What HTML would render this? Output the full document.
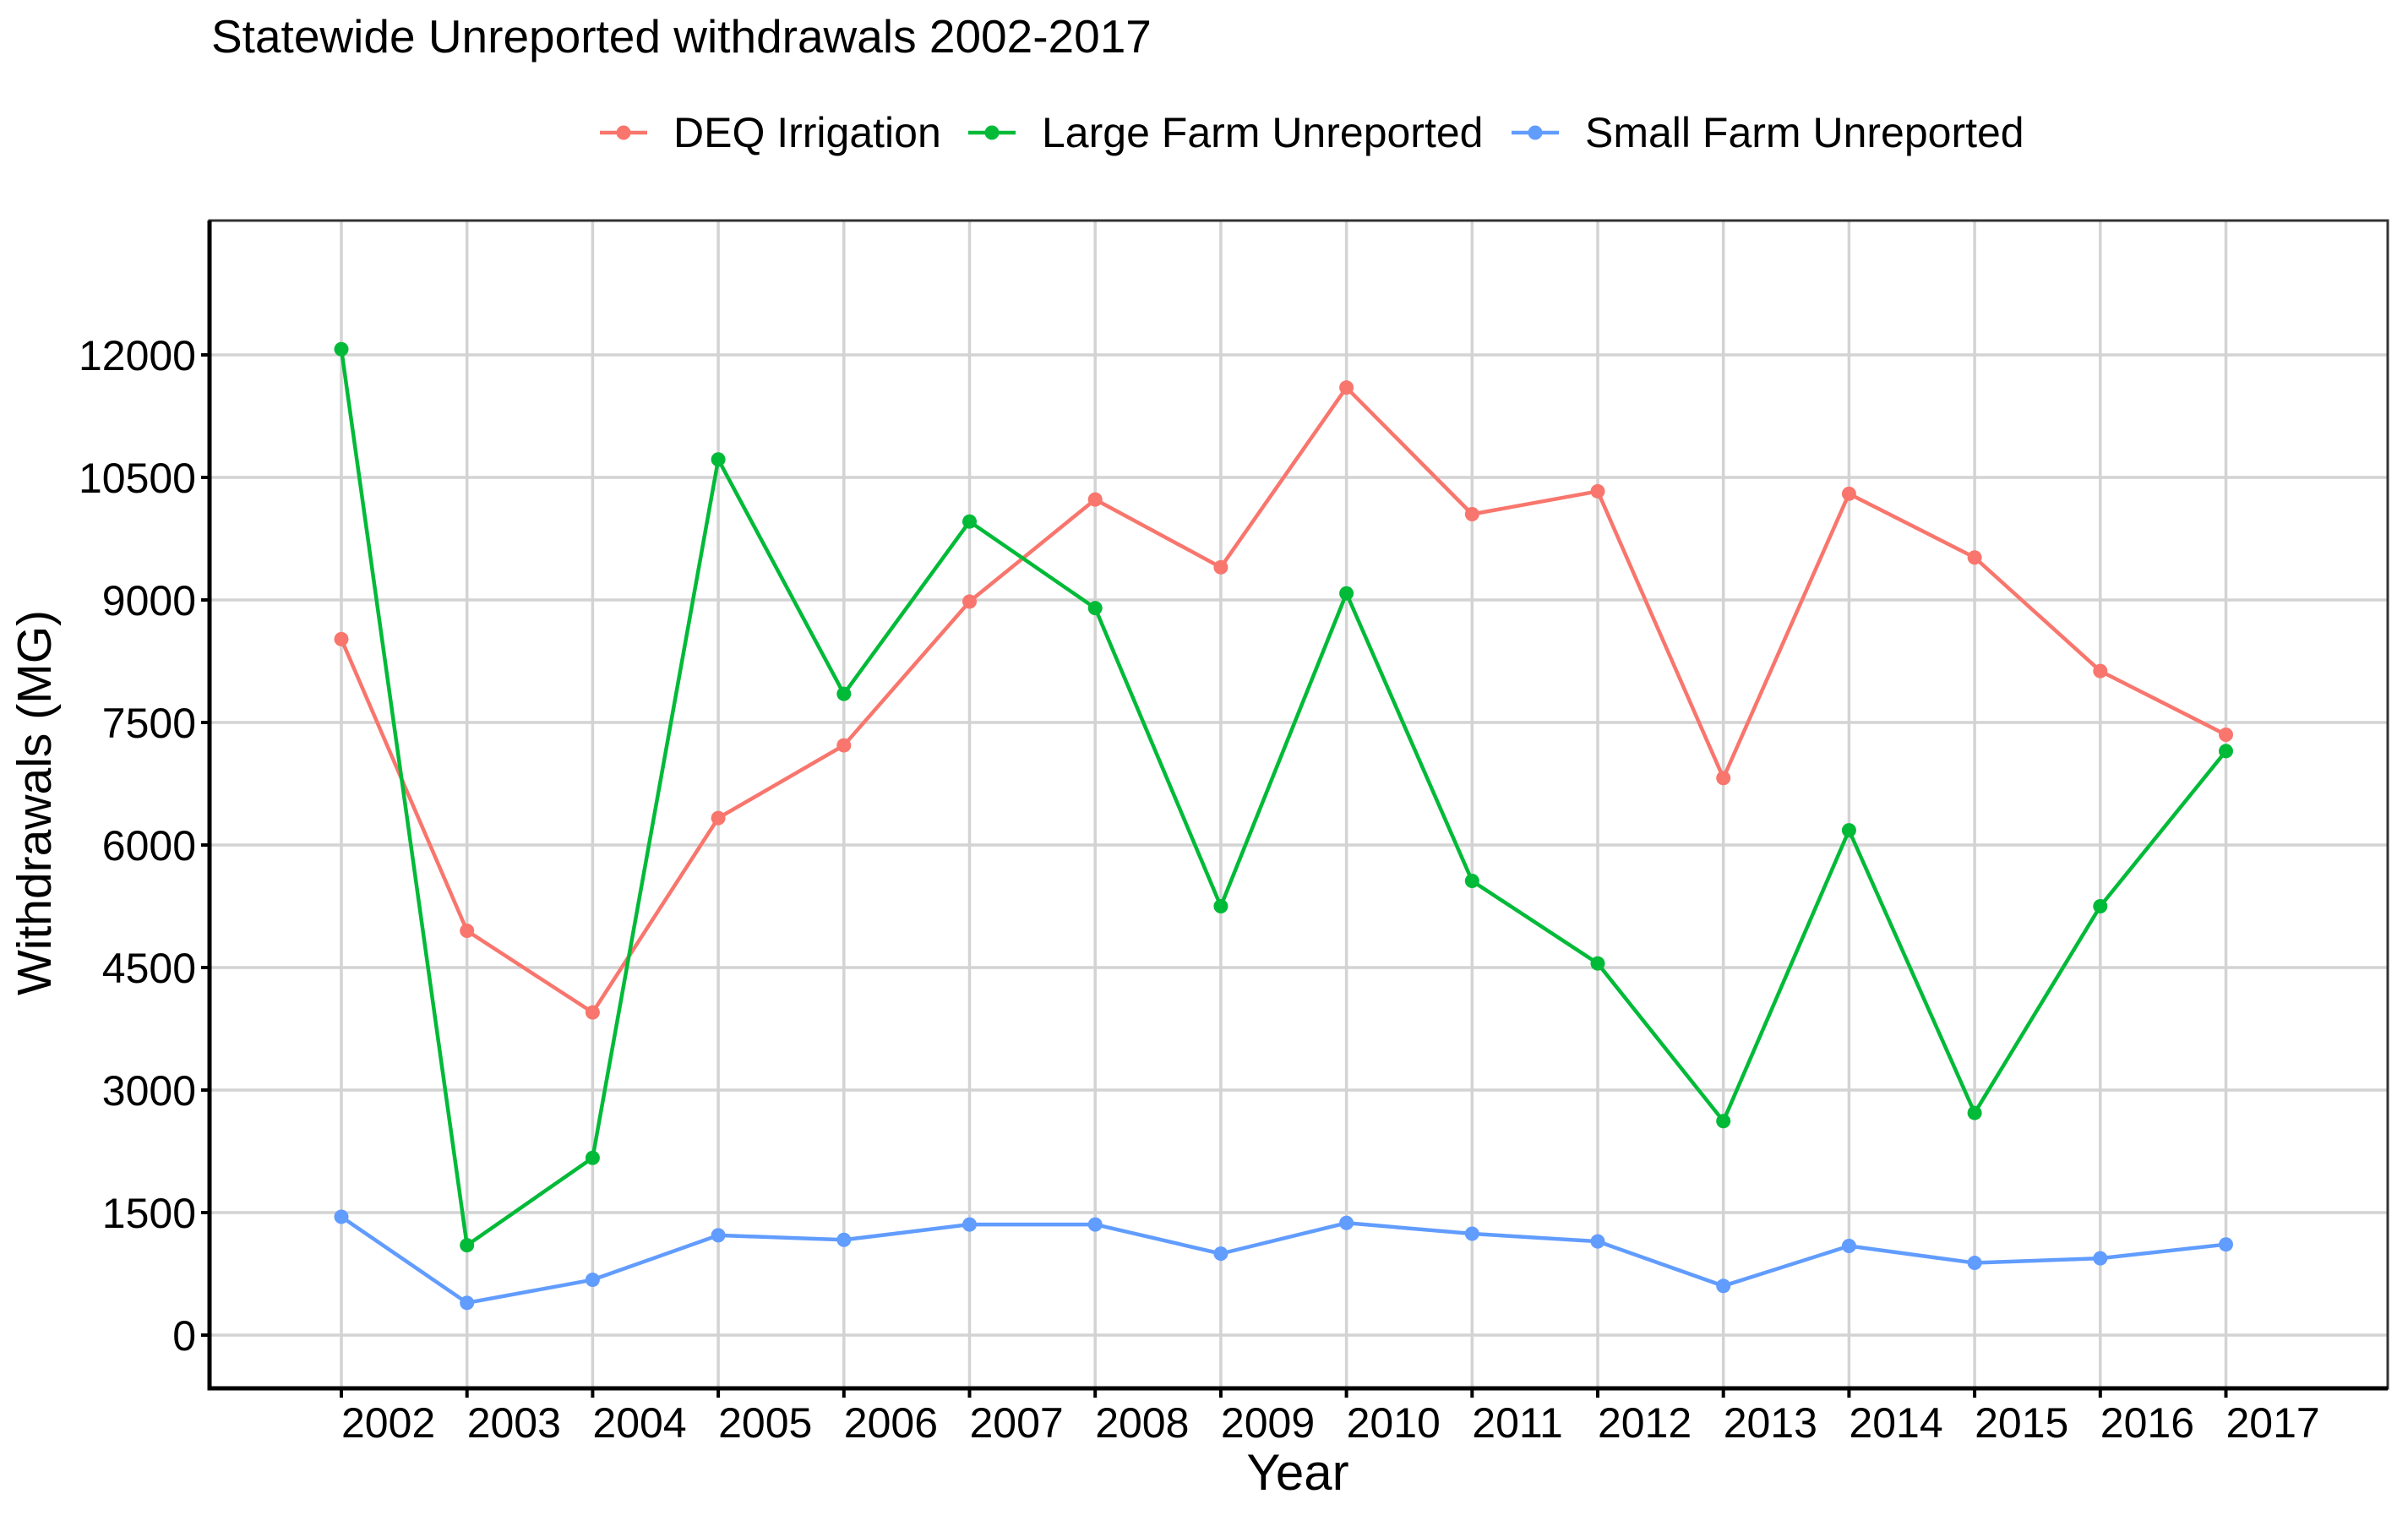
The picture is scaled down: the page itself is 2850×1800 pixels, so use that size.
<!DOCTYPE html>
<html><head><meta charset="utf-8"><style>
html,body{margin:0;padding:0;background:#fff;}
svg{display:block;font-family:"Liberation Sans",Arial,sans-serif;}
</style></head><body>
<svg id="chart" width="2850" height="1800" viewBox="0 0 2850 1800">
<rect width="2850" height="1800" fill="#fff"/>
<text x="250" y="62" font-size="55" fill="#000">Statewide Unreported withdrawals 2002-2017</text>
<g id="legend"></g>
<g id="grid"></g>
<g id="series"></g>
<g id="axes"></g>
<text x="1536" y="1763" font-size="60" text-anchor="middle">Year</text>
<text transform="translate(60,950) rotate(-90)" font-size="57" text-anchor="middle">Withdrawals (MG)</text>
</svg>
<script>
const years = [2002,2003,2004,2005,2006,2007,2008,2009,2010,2011,2012,2013,2014,2015,2016,2017];
const deqIrrigation = [8520,4950,3950,6330,7220,8980,10230,9400,11600,10050,10330,6820,10300,9520,8130,7350];
const largeFarm = [12070,1100,2170,10720,7850,9960,8900,5250,9080,5560,4550,2620,6180,2720,5250,7150];
const smallFarm = [1448,395,677,1222,1166,1354,1354,997,1373,1241,1147,602,1091,884,940,1110];
const yTicks = [0,1500,3000,4500,6000,7500,9000,10500,12000];
const seriesNames = ["DEQ Irrigation","Large Farm Unreported","Small Farm Unreported"];
const seriesColors = ["#F8766D","#00BA38","#619CFF"];

const NS="http://www.w3.org/2000/svg";
const L=248,R=2826,T=261,B=1643;
function xs(y){return 404+(y-2002)*148.7;}
function ys(v){return 1580-v*(1160/12000);}
function mk(tag,attrs,parent){const e=document.createElementNS(NS,tag);for(const k in attrs)e.setAttribute(k,attrs[k]);parent.appendChild(e);return e;}
const grid=document.getElementById('grid'),axes=document.getElementById('axes'),ser=document.getElementById('series'),leg=document.getElementById('legend');
yTicks.forEach(v=>{
  const g=mk('line',{x1:L,x2:R,y1:ys(v),y2:ys(v),stroke:'#d3d3d3','stroke-width':3.5},grid);
  
  
  const t=mk('line',{x1:L-10,x2:L,y1:ys(v),y2:ys(v),stroke:'#000','stroke-width':4},axes);
  
  
  const tx=mk('text',{x:L-16,y:ys(v)+18,'font-size':50,'text-anchor':'end'},axes);
  tx.textContent=v;
  
  
});
years.forEach(y=>{
  const g=mk('line',{x1:xs(y),x2:xs(y),y1:T,y2:B,stroke:'#d3d3d3','stroke-width':3.5},grid);
  
  
  const t=mk('line',{x1:xs(y),x2:xs(y),y1:B,y2:B+11,stroke:'#000','stroke-width':4},axes);
  
  
  const tx=mk('text',{x:xs(y),y:1701,'font-size':50},axes);
  tx.textContent=y;
  
  
});
const border=mk('rect',{x:L,y:T,width:R-L,height:B-T,fill:'none',stroke:'#333','stroke-width':3},axes);


const la=mk('path',{d:`M${L},${T} L${L},${B} L${R},${B}`,fill:'none',stroke:'#000','stroke-width':5},axes);



[deqIrrigation,largeFarm,smallFarm].forEach((vals,i)=>{
  const c=seriesColors[i];
  const p=mk('polyline',{points:vals.map((v,j)=>xs(years[j])+','+ys(v)).join(' '),fill:'none',stroke:c,'stroke-width':4.5,'stroke-linejoin':'round'},ser);
  
  
  vals.forEach((v,j)=>{
    const d=mk('circle',{cx:xs(years[j]),cy:ys(v),r:8.5,fill:c},ser);
    
    
  });
});
const legX=[710,1146,1789];
seriesNames.forEach((n,i)=>{
  const c=seriesColors[i];
  const g=mk('g',{},leg);
  
  
  mk('line',{x1:legX[i],x2:legX[i]+56,y1:157,y2:157,stroke:c,'stroke-width':4.5},g);
  mk('circle',{cx:legX[i]+28,cy:157,r:8.5,fill:c},g);
  const t=mk('text',{x:legX[i]+87,y:174,'font-size':50},g);
  t.textContent=n;
});
</script>
</body></html>
